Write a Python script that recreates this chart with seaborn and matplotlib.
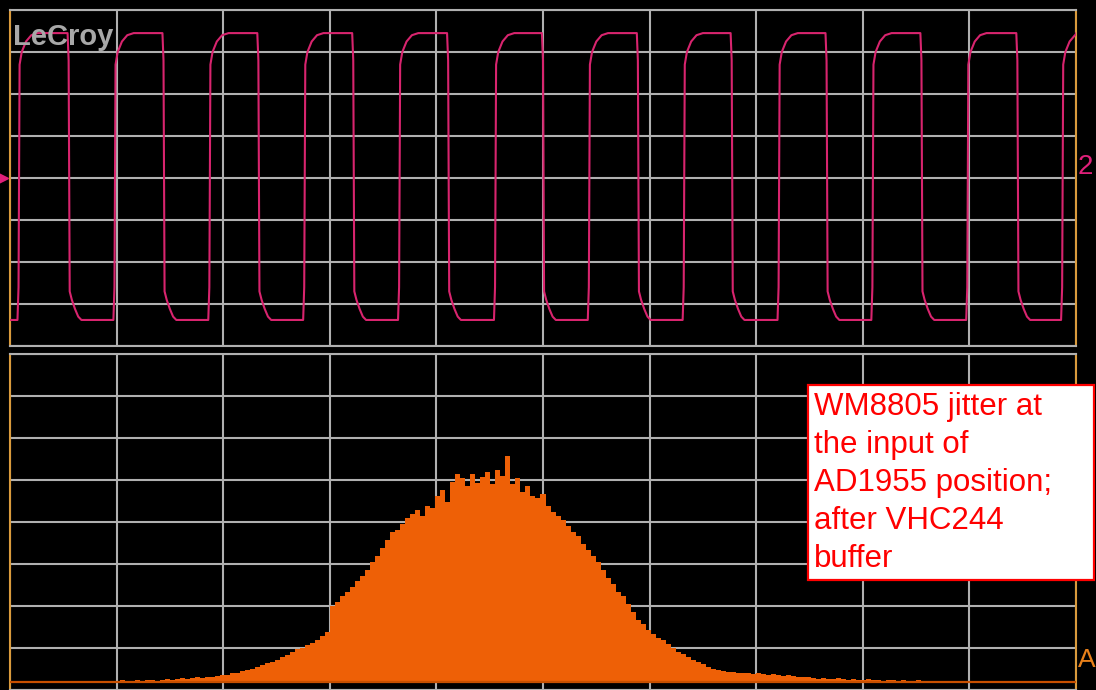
import numpy as np
import pandas as pd
import matplotlib
matplotlib.use('Agg')
import matplotlib.pyplot as plt
import seaborn as sns
from matplotlib.patches import Rectangle

# --- clock trace (channel 2), screen units: 10 div across, +-4 div high ---
rise_times = [0.07, 0.97, 1.86, 2.75, 3.64, 4.54, 5.42, 6.31, 7.20, 8.08, 8.97, 9.86]
fall_times = [0.54, 1.43, 2.32, 3.21, 4.10, 4.99, 5.88, 6.76, 7.65, 8.54, 9.44]
# shape of each edge: offset from the edge time, level in div
rise_dx = [0.0, 0.01, 0.02, 0.04, 0.08, 0.13, 0.19]
rise_lv = [-3.38, -2.6, 2.7, 3.0, 3.25, 3.4, 3.45]
fall_dx = [0.0, 0.01, 0.02, 0.04, 0.07, 0.10, 0.13]
fall_lv = [3.45, 2.8, -2.7, -2.9, -3.12, -3.3, -3.38]

# --- jitter histogram (trace A), bar heights over 213 equal bins across the screen ---
hist_counts = [
    0, 0, 0, 0, 0, 0, 0, 0, 0, 0,
    1, 0, 1, 1, 0, 1, 1, 1, 0, 1,
    1, 1, 2, 1, 1, 2, 1, 2, 2, 1,
    2, 3, 2, 3, 4, 3, 4, 5, 4, 5,
    5, 6, 7, 7, 9, 9, 11, 12, 13, 15,
    17, 19, 20, 22, 25, 27, 30, 33, 34, 37,
    39, 42, 46, 50, 76, 80, 86, 90, 95, 101,
    106, 112, 120, 126, 134, 142, 150, 152, 158, 164,
    168, 172, 166, 176, 174, 186, 192, 180, 200, 208,
    204, 196, 208, 199, 205, 210, 198, 212, 206, 226,
    198, 204, 190, 196, 186, 184, 188, 176, 170, 166,
    162, 156, 150, 146, 138, 132, 126, 120, 112, 104,
    98, 90, 86, 78, 70, 62, 58, 52, 48, 44,
    42, 38, 34, 30, 28, 25, 22, 20, 18, 15,
    13, 12, 11, 10, 10, 9, 9, 9, 8, 9,
    8, 7, 8, 7, 6, 7, 6, 5, 5, 5,
    4, 3, 4, 3, 3, 4, 3, 2, 3, 2,
    2, 3, 2, 2, 1, 2, 2, 1, 2, 1,
    1, 2, 1, 1, 1, 0, 1, 1, 0, 1,
    1, 0, 1, 0, 0, 1, 0, 0, 0, 0,
    0, 0, 0, 0, 0, 0, 0, 0, 0, 0, 0, 0, 0,
]

note_lines = ['WM8805 jitter at', 'the input of', 'AD1955 position;', 'after VHC244', 'buffer']

# build the trace from the edges
edges = sorted([(t, 'r') for t in rise_times] + [(t, 'f') for t in fall_times])
xs = [0.0]
ys = [rise_lv[0]]
for t, kind in edges:
    if kind == 'r':
        xs += [t + d for d in rise_dx]
        ys += rise_lv
    else:
        xs += [t + d for d in fall_dx]
        ys += fall_lv
xs.append(10.0)
ys.append(ys[-1])
trace = pd.DataFrame({'time': xs, 'level': ys})

n_bins = len(hist_counts)
bin_mid = (np.arange(n_bins) + 0.5) * 10 / n_bins
hist_df = pd.DataFrame({'pos': bin_mid, 'count': hist_counts})

sns.set_style('dark', rc={'axes.facecolor': 'black', 'figure.facecolor': 'black'})

W, H = 1096, 690
fig = plt.figure(figsize=(W / 100, H / 100), dpi=100)
ax_top = fig.add_axes([10 / W, 1 - 346 / H, 1066 / W, 336 / H])
ax_bot = fig.add_axes([10 / W, 0, 1066 / W, 336 / H])

grid_col = '#b0b0b0'
border_col = '#d99a3c'
trace_col = '#d8246e'
hist_col = '#ee6006'

sns.lineplot(data=trace, x='time', y='level', sort=False, estimator=None,
             ax=ax_top, color=trace_col, linewidth=1.5, zorder=3)
ax_top.set_xlim(0, 10)
ax_top.set_ylim(-4, 4)
ax_top.set_yticks(np.arange(-4, 5))

sns.histplot(data=hist_df, x='pos', weights='count', bins=n_bins, binrange=(0, 10),
             ax=ax_bot, element='step', fill=True, color=hist_col, alpha=1,
             linewidth=0, zorder=3)
ax_bot.axhline(0, color='#c85000', linewidth=1.6, zorder=4)
ax_bot.set_xlim(0, 10)
ax_bot.set_ylim(-8, 328)
ax_bot.set_yticks(np.arange(-8, 329, 42))

for ax in (ax_top, ax_bot):
    ax.set_xticks(np.arange(0, 11))
    ax.grid(True, color=grid_col, linewidth=1.5, zorder=1)
    ax.set_axisbelow(True)
    ax.tick_params(length=0, labelbottom=False, labelleft=False)
    ax.set_xlabel('')
    ax.set_ylabel('')
    for side in ('left', 'right'):
        ax.spines[side].set_color(border_col)
        ax.spines[side].set_linewidth(1.5)
    for side in ('top', 'bottom'):
        ax.spines[side].set_color(grid_col)
        ax.spines[side].set_linewidth(1.5)

# scope decorations
fig.text(13 / W, 1 - 45 / H, 'LeCroy', color='#a8a8a8', fontsize=21, fontweight='bold',
         family=['Liberation Sans', 'DejaVu Sans'], va='baseline', ha='left')
fig.text(1078 / W, 1 - 174 / H, '2', color='#e0207a', fontsize=20,
         family=['Liberation Sans', 'DejaVu Sans'], va='baseline', ha='left')
fig.text(1078 / W, 1 - 667 / H, 'A', color='#e8801a', fontsize=19,
         family=['Liberation Sans', 'DejaVu Sans'], va='baseline', ha='left')
fig.lines.append(plt.Line2D([2 / W], [1 - 178 / H], marker='>', markersize=8,
                            color='#e0207a', transform=fig.transFigure))

# annotation box
fig.patches.append(Rectangle((808 / W, 1 - 580 / H), (1094 - 808) / W, (580 - 385) / H,
                             transform=fig.transFigure, facecolor='white',
                             edgecolor='#ff0000', linewidth=1.6, zorder=5))
for i, line in enumerate(note_lines):
    fig.text(814 / W, 1 - (415 + 38 * i) / H, line, color='#ff0000', fontsize=22.5,
             family=['Liberation Sans', 'DejaVu Sans'], va='baseline', ha='left', zorder=6)

plt.savefig('out.png', dpi=100, facecolor='black')
